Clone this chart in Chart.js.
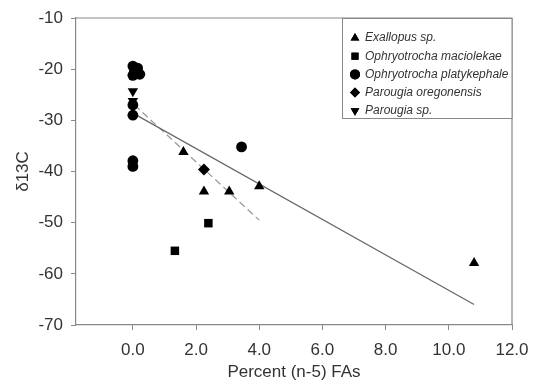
<!DOCTYPE html>
<html>
<head>
<meta charset="utf-8">
<script src="https://cdn.jsdelivr.net/npm/chart.js@4"></script>
<style>
  html, body { margin:0; padding:0; background:#fff; }
  #wrap { width:533px; height:384px; }
</style>
</head>
<body>
<div id="wrap"><canvas id="c" width="533" height="384"></canvas></div>
<script>
/* d13C vs percent (n-5) FAs */
const xTicks = [0, 2, 4, 6, 8, 10, 12];
const yTicks = [-10, -20, -30, -40, -50, -60, -70];

const exallopusX = [1.6, 2.25, 3.05, 4.0, 10.8];
const exallopusY = [-36.2, -43.9, -43.9, -42.9, -57.9];
const macioX = [1.33, 2.39];
const macioY = [-55.5, -50.1];
const platyX = [0, 0.15, 0, 0.22, 0.05, 0, 0, 0, 0, 3.44];
const platyY = [-19.4, -19.8, -21.2, -21.0, -20.4, -27.0, -29.0, -37.9, -39.0, -35.2];
const oregX = [2.25];
const oregY = [-39.6];
const paroX = [0, 0];
const paroY = [-24.3, -26.2];

// regression lines (end points)
const fitAllX = [0, 10.8];
const fitAllY = [-28.6, -66.0];
const fitSubX = [0.05, 4.0];
const fitSubY = [-27.0, -49.5];

const pts = (xs, ys) => xs.map((x, i) => ({x: x, y: ys[i]}));

const species = [
  {label:'Exallopus sp.', data:pts(exallopusX, exallopusY), pointStyle:'triangle', radius:6, rot:0},
  {label:'Ophryotrocha maciolekae', data:pts(macioX, macioY), pointStyle:'rect', radius:6, rot:0},
  {label:'Ophryotrocha platykephale', data:pts(platyX, platyY), pointStyle:'circle', radius:5.4, rot:0},
  {label:'Parougia oregonensis', data:pts(oregX, oregY), pointStyle:'rectRot', radius:6, rot:0},
  {label:'Parougia sp.', data:pts(paroX, paroY), pointStyle:'triangle', radius:6, rot:180}
];

const datasets = species.map(s => ({
  label: s.label, data: s.data, pointStyle: s.pointStyle, pointRadius: s.radius,
  pointRotation: s.rot, backgroundColor:'#000', borderColor:'#000', borderWidth:0, order:0
}));
datasets.push({label:'fit all', data:pts(fitAllX, fitAllY), showLine:true, pointRadius:0,
  borderColor:'#6a6a6a', borderWidth:1.3, order:5});
datasets.push({label:'fit sub', data:pts(fitSubX, fitSubY), showLine:true, pointRadius:0,
  borderColor:'#9a9a9a', borderWidth:1.3, borderDash:[7,4], order:5});

const frame = {
  id:'frame',
  afterDatasetsDraw(chart){
    const a = chart.chartArea, ctx = chart.ctx;
    ctx.save();
    ctx.strokeStyle = '#888'; ctx.lineWidth = 1.2;
    ctx.beginPath();
    ctx.moveTo(a.left, a.top); ctx.lineTo(a.right, a.top); ctx.lineTo(a.right, a.bottom);
    ctx.stroke();
    // legend box
    const bx = 342, by = a.top, bw = a.right - bx, bh = 100;
    ctx.fillStyle = '#fff';
    ctx.fillRect(bx, by, bw, bh);
    ctx.strokeStyle = '#888'; ctx.lineWidth = 1;
    ctx.strokeRect(bx + 0.5, by + 0.5, bw - 0.5, bh);
    ctx.font = 'italic 12px "Liberation Sans", Arial, sans-serif';
    ctx.textBaseline = 'middle';
    species.forEach((s, i) => {
      const y = by + 20 + i * 18.2;
      ctx.fillStyle = '#000';
      Chart.helpers.drawPoint(ctx, {pointStyle:s.pointStyle, radius:5, rotation:s.rot, borderWidth:0}, 355, y);
      ctx.fill();
      ctx.fillStyle = '#333';
      ctx.fillText(s.label, 365, y, bw - 24);
    });
    ctx.restore();
  }
};

const tickFont = {family:'"Liberation Sans", Arial, sans-serif', size:17};

new Chart(document.getElementById('c'), {
  type:'scatter',
  data:{datasets:datasets},
  plugins:[frame],
  options:{
    responsive:false, animation:false,
    layout:{padding:{top:18, right:21, left:0, bottom:0}},
    plugins:{legend:{display:false}, tooltip:{enabled:false}},
    scales:{
      x:{
        min:-1.8, max:12,
        afterBuildTicks: s => { s.ticks = xTicks.map(v => ({value:v})); },
        afterFit: s => { s.height = 59; s.paddingLeft = 0; s.paddingRight = 0; },
        ticks:{color:'#333', font:tickFont, padding:10, maxRotation:0, callback: v => v.toFixed(1)},
        grid:{drawOnChartArea:false, tickLength:5, color:'#888'},
        border:{color:'#888', width:1.2},
        title:{display:true, text:'Percent (n-5) FAs', color:'#333', font:tickFont, padding:{top:0, bottom:1}}
      },
      y:{
        min:-70, max:-10,
        afterBuildTicks: s => { s.ticks = yTicks.map(v => ({value:v})); },
        afterFit: s => { s.width = 76; s.paddingTop = 0; s.paddingBottom = 0; },
        ticks:{color:'#333', font:tickFont, padding:8, callback: v => String(v)},
        grid:{drawOnChartArea:false, tickLength:5, color:'#888'},
        border:{color:'#888', width:1.2},
        title:{display:true, text:'δ13C', color:'#333', font:tickFont, padding:{top:13, bottom:0}}
      }
    }
  }
});
</script>
</body>
</html>
